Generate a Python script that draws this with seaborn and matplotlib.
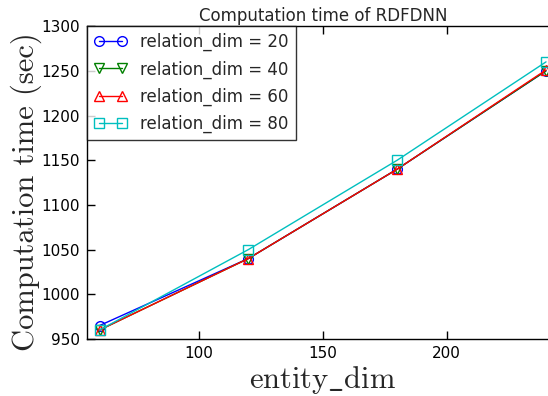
import matplotlib
matplotlib.use("Agg")
import matplotlib.pyplot as plt
import seaborn as sns
import pandas as pd

# data
entity_dim = [60, 120, 180, 240]
time_dim20 = [965, 1040, 1140, 1250]
time_dim40 = [960, 1040, 1140, 1250]
time_dim60 = [960, 1040, 1140, 1251]
time_dim80 = [960, 1050, 1150, 1260]
relation_dims = [20, 40, 60, 80]

series = [time_dim20, time_dim40, time_dim60, time_dim80]
colors = ['b', 'g', 'r', 'c']
markers = ['o', 'v', '^', 's']

sns.set_style('ticks', {'xtick.direction': 'in', 'ytick.direction': 'in'})
plt.rcParams['font.family'] = ['DejaVu Sans']
plt.rcParams['mathtext.fontset'] = 'cm'

fig = plt.figure(figsize=(5.48, 3.96), dpi=100)
ax = fig.add_axes([0.159, 0.144, 0.86, 0.790])

for rd, vals, c, m in zip(relation_dims, series, colors, markers):
    df = pd.DataFrame({'entity_dim': entity_dim, 'time': vals})
    sns.lineplot(data=df, x='entity_dim', y='time', ax=ax, color=c, marker=m,
                 markersize=7, markerfacecolor='none', markeredgecolor=c,
                 markeredgewidth=1, linewidth=1, label=f'relation_dim = {rd}')

ax.set_xlim(55, 245)
ax.set_ylim(950, 1300)
ax.set_xticks([100, 150, 200])
ax.set_yticks(range(950, 1301, 50))
ax.tick_params(axis='both', which='both', direction='in', top=True, right=True,
               labelsize=11, length=6, width=1, colors='black', pad=5)
for s in ax.spines.values():
    s.set_color('black')
    s.set_linewidth(1)

ax.set_title('Computation time of RDFDNN', fontsize=12, pad=4)
ax.set_xlabel(r'$\mathrm{entity\_dim}$', fontsize=22, labelpad=2)
ax.set_ylabel('Computation time (sec)', family='cmr10', fontsize=22)
ax.yaxis.set_label_coords(-0.095, 0.47)

leg = ax.legend(loc='upper left', numpoints=2, fontsize=12, frameon=True,
                fancybox=False, borderaxespad=0, handlelength=2.0,
                labelspacing=0.55)
leg.get_frame().set_edgecolor('black')
leg.get_frame().set_linewidth(1)

fig.savefig('out.png', dpi=100)
